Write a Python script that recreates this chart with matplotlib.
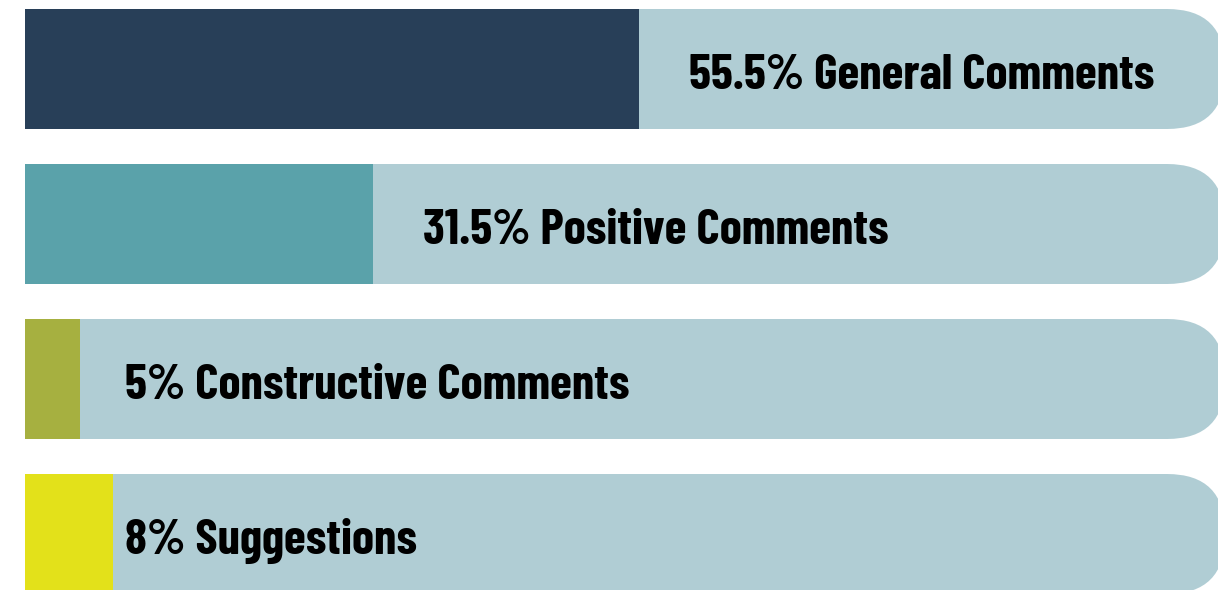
import matplotlib
matplotlib.use("Agg")
import matplotlib.pyplot as plt
from matplotlib.patches import FancyBboxPatch

# comment categories, share in percent
labels = ["General Comments", "Positive Comments", "Constructive Comments", "Suggestions"]
shares = [55.5, 31.5, 5, 8]
share_text = ["55.5%", "31.5%", "5%", "8%"]
colors = ["#283f58", "#5aa2aa", "#a6b040", "#e3e11a"]
track_color = "#b0cdd4"

W, H = 1218, 590
px_per_pct = 11.06      # horizontal scale
px_per_row = 155        # vertical distance between bars
left_px, first_center_px = 25, 69
bar_h = 120 / px_per_row
track_end = (1225 - left_px) / px_per_pct
radius_px = 58

plt.rcParams['font.family'] = ['Barlow Condensed', 'Roboto Condensed', 'DejaVu Sans']

fig = plt.figure(figsize=(W / 100, H / 100), dpi=100)
ax = fig.add_axes([0, 0, 1, 1])
ax.set_xlim(-left_px / px_per_pct, (W - left_px) / px_per_pct)
ax.set_ylim((H - first_center_px) / px_per_row, -first_center_px / px_per_row)
ax.axis("off")

ux = 1 / px_per_pct
uy = 1 / px_per_row
for i, (v, c) in enumerate(zip(shares, colors)):
    # light track with rounded right end
    cap_left = track_end - 3 * radius_px * ux
    ax.barh(i, cap_left + radius_px * ux, height=bar_h, left=0, color=track_color,
            lw=0, zorder=1)
    ax.add_patch(FancyBboxPatch((cap_left, i - bar_h / 2), track_end - cap_left, bar_h,
                                boxstyle="round,pad=0,rounding_size=%f" % (radius_px * ux),
                                mutation_aspect=uy / ux, fc=track_color, ec="none", zorder=1))
    # filled share
    ax.barh(i, v, height=bar_h, left=0, color=c, lw=0, zorder=2)
    lx = v + 4.5 if v > 20 else 9.0
    ax.text(lx, i + 20 * uy, "%s %s" % (share_text[i], labels[i]), ha="left", va="baseline",
            fontsize=36, fontweight="bold", color="black", zorder=3)

fig.savefig("out.png", dpi=100)
